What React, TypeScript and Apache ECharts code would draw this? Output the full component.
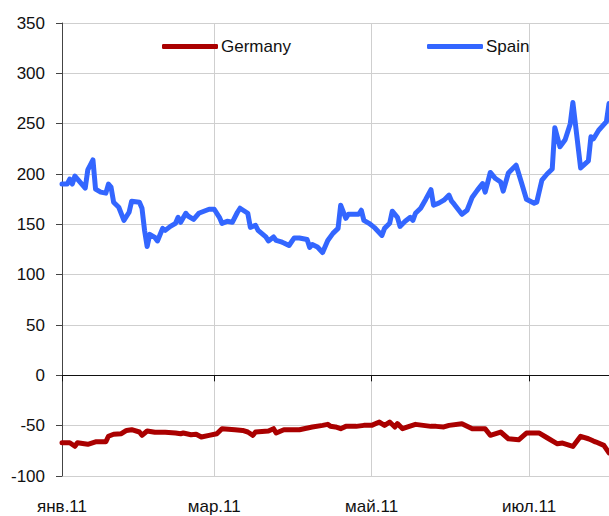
import React, { useEffect, useRef } from "react";
import * as echarts from "echarts";

// Days since 2011-01-01 and values
const spainDays = [0, 2, 3, 4, 5, 7, 9, 10, 12, 13, 15, 17, 18, 19, 20, 22, 24, 26, 27, 30, 31, 32, 33, 34, 36, 37, 39, 40, 42, 44, 45, 46, 48, 49, 51, 53, 54, 57, 59, 61, 62, 64, 66, 68, 69, 72, 73, 75, 76, 79, 80, 82, 83, 85, 86, 88, 90, 92, 95, 96, 97, 99, 101, 103, 105, 107, 108, 110, 111, 115, 116, 117, 119, 121, 124, 125, 127, 128, 130, 131, 133, 135, 136, 137, 139, 141, 143, 144, 146, 148, 150, 151, 152, 155, 157, 159, 161, 163, 164, 166, 168, 170, 171, 173, 176, 178, 180, 183, 184, 186, 188, 190, 191, 193, 195, 197, 198, 201, 204, 205, 206, 208, 211, 212];
const spainValues = [190, 190, 195, 190, 198, 192, 186, 204, 214, 185, 182, 181, 190, 187, 172, 167, 154, 162, 173, 172, 166, 144, 128, 140, 137, 133.5, 146, 144, 148, 151, 157, 152, 161, 158, 155, 161, 162, 165, 165, 157, 151, 153, 152, 162, 166, 161, 147, 149, 144, 137.5, 133.5, 137.5, 134, 132.5, 131.5, 129, 136.5, 136.5, 135, 127, 130, 127.5, 122, 134, 141, 146, 169, 156, 160, 160, 164, 154, 151, 147, 139, 146, 151, 163, 157, 148, 153, 157, 154, 161, 166, 175, 184.5, 169, 171, 174, 179, 173, 170, 160, 164, 177, 184, 190.5, 182, 201.5, 195.5, 192, 183, 201, 208.7, 192, 175, 171, 172, 194, 200, 205, 246, 227, 234, 250, 271, 206, 213, 237, 235, 243.5, 252, 270];

const germanyDays = [0, 3, 5, 6, 10, 13, 17, 18, 20, 23, 25, 27, 30, 31, 33, 36, 40, 44, 46, 47, 50, 52, 54, 57, 60, 62, 67, 70, 72, 74, 75, 80, 82, 83, 86, 92, 97, 101, 103, 104, 106, 108, 110, 114, 117, 120, 123, 125, 127, 129, 130, 132, 134, 137, 143, 145, 148, 150, 155, 159, 164, 166, 170, 173, 177, 180, 185, 188, 192, 194, 198, 201, 204, 206, 207, 210, 212];
const germanyValues = [-67, -67, -70.5, -67, -68.5, -66, -66, -60.5, -58.5, -58, -54.7, -54, -56.3, -59.6, -55.3, -56.6, -56.6, -57.3, -58, -57.3, -59, -58.6, -61.3, -59.6, -58, -53, -54, -54.7, -56.3, -59.6, -56.3, -55.3, -53, -57.3, -54, -54, -51.3, -49.7, -48.7, -50.5, -51.3, -53, -50.7, -50.7, -49.7, -49.7, -46.4, -49.7, -46.4, -51.3, -48, -53, -51.3, -48.7, -50.7, -50.7, -51.3, -49.7, -48, -53, -53, -59.6, -56.3, -63, -64, -57.3, -57.3, -62, -68, -67.3, -70.6, -60.6, -63, -65.3, -66.3, -69.6, -77];

const yTicks = { min: -100, max: 350, interval: 50 };
const monthLabels: Record<number, string> = { 1: "янв.11", 3: "мар.11", 5: "май.11", 7: "июл.11" };
const seriesNames = ["Germany", "Spain"];

const totalDays = 213;
const categories: string[] = [];
for (let i = 0; i < totalDays; i++) {
  const d = new Date(Date.UTC(2011, 0, 1 + i));
  categories.push(d.toISOString().slice(0, 10));
}
const isLabelDay = (_idx: number, value: string) => {
  const m = parseInt(value.slice(5, 7), 10);
  return value.slice(8, 10) === "01" && monthLabels[m] !== undefined;
};

const FONT = "'Liberation Sans', Arial, sans-serif";

export default function App() {
  const ref = useRef<HTMLDivElement>(null);
  useEffect(() => {
    document.body.style.margin = "0";
    const chart = echarts.init(ref.current!, undefined, { renderer: "svg" });
    chart.setOption({
      animation: false,
      backgroundColor: "#ffffff",
      textStyle: { fontFamily: FONT },
      grid: { left: 62, right: 0, top: 23, bottom: 40, containLabel: false },
      legend: [
        {
          data: [seriesNames[0]],
          left: 162,
          top: 38,
          padding: 0,
          icon: "roundRect",
          itemWidth: 56,
          itemHeight: 5,
          textStyle: { fontSize: 17, color: "#111", fontFamily: FONT, padding: [0, 0, 0, -2] },
        },
        {
          data: [seriesNames[1]],
          left: 427,
          top: 38,
          padding: 0,
          icon: "roundRect",
          itemWidth: 56,
          itemHeight: 5,
          textStyle: { fontSize: 17, color: "#111", fontFamily: FONT, padding: [0, 0, 0, -2] },
        },
      ],
      xAxis: [
        {
          type: "category",
          data: categories,
          boundaryGap: false,
          position: "bottom",
          axisLine: { show: false, onZero: false },
          axisTick: { show: false },
          axisLabel: {
            interval: isLabelDay,
            formatter: (v: string) => monthLabels[parseInt(v.slice(5, 7), 10)] || "",
            fontSize: 17,
            color: "#111",
            fontFamily: FONT,
            margin: 22,
          },
          splitLine: { show: true, interval: isLabelDay, lineStyle: { color: "#cfcfcf", width: 1 } },
        },
        {
          type: "category",
          data: categories,
          boundaryGap: false,
          position: "bottom",
          axisLine: { show: true, onZero: true, lineStyle: { color: "#111", width: 1 } },
          axisTick: { show: true, interval: isLabelDay, length: 6, lineStyle: { color: "#111" } },
          axisLabel: { show: false },
          splitLine: { show: false },
        },
      ],
      yAxis: {
        type: "value",
        min: yTicks.min,
        max: yTicks.max,
        interval: yTicks.interval,
        axisLine: { show: true, lineStyle: { color: "#444", width: 1 } },
        axisTick: { show: true, length: 6, lineStyle: { color: "#444" } },
        axisLabel: { fontSize: 17, color: "#111", fontFamily: FONT, margin: 17 },
        splitLine: { show: true, lineStyle: { color: "#cfcfcf", width: 1 } },
      },
      series: [
        {
          name: seriesNames[0],
          type: "line",
          xAxisIndex: 0,
          symbol: "none",
          data: germanyDays.map((d, i) => [d, germanyValues[i]]),
          lineStyle: { color: "#AA0000", width: 5, cap: "round", join: "round" },
          itemStyle: { color: "#AA0000" },
        },
        {
          name: seriesNames[1],
          type: "line",
          xAxisIndex: 0,
          symbol: "none",
          data: spainDays.map((d, i) => [d, spainValues[i]]),
          lineStyle: { color: "#3366FF", width: 5, cap: "round", join: "round" },
          itemStyle: { color: "#3366FF" },
        },
      ],
    });
    return () => chart.dispose();
  }, []);
  return <div ref={ref} style={{ width: 609, height: 516, position: "absolute", left: 0, top: 0 }} />;
}
